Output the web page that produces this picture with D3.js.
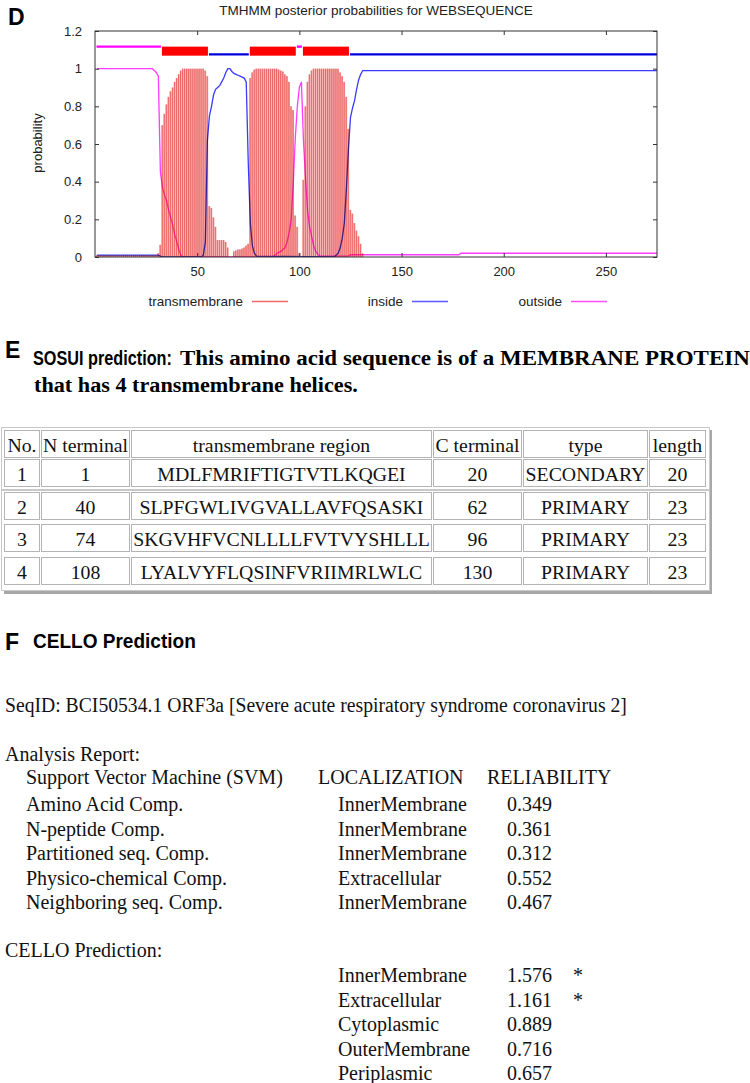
<!DOCTYPE html>
<html>
<head>
<meta charset="utf-8">
<script src="https://cdn.jsdelivr.net/npm/d3@7"></script>
<style>
body { margin: 0; background: #fff; }
svg { display: block; }
</style>
</head>
<body>
<div id="figure"></div>
<script>
// ---------- panel D : TMHMM posterior probabilities ----------
// transmembrane probability, residues 1..131 (0 afterwards)
const tmProb = [
    0.01, 0.01, 0.01, 0.01, 0.01, 0.01, 0.01, 0.01, 0.01, 0.01,
    0.01, 0.01, 0.01, 0.01, 0.01, 0.01, 0.01, 0.01, 0.01, 0.01,
    0.01, 0.01, 0.01, 0.01, 0.01, 0.01, 0.01, 0.01, 0.01, 0.01,
    0.02, 0.065, 0.70, 0.76, 0.81, 0.85, 0.88, 0.90, 0.93, 0.95,
    0.97, 0.99, 1.0, 1.0, 1.0, 1.0, 1.0, 1.0, 1.0, 1.0,
    1.0, 1.0, 1.0, 0.99, 0.96, 0.27, 0.26, 0.21, 0.16, 0.09,
    0.09, 0.09, 0.09, 0.08, 0.05, 0, 0, 0.03, 0.035, 0.04,
    0.04, 0.045, 0.05, 0.06, 0.07, 0.95, 0.98, 0.995, 1.0, 1.0,
    1.0, 1.0, 1.0, 1.0, 1.0, 1.0, 1.0, 1.0, 1.0, 0.995,
    0.99, 0.985, 0.97, 0.96, 0.93, 0.80, 0.78, 0.22, 0.16, 0.02,
    0, 0.41, 0.80, 0.93, 0.97, 0.99, 1.0, 1.0, 1.0, 1.0,
    1.0, 1.0, 1.0, 1.0, 1.0, 1.0, 1.0, 1.0, 1.0, 0.98,
    0.96, 0.93, 0.85, 0.68, 0.25, 0.23, 0.18, 0.14, 0.11, 0.07,
    0.02
];

// inside probability, [residue, probability]
const insideProb = [
    [1, 0.01], [31, 0.01], [32, 0.005], [33, 0], [52, 0], [53, 0.01],
    [54, 0.08], [55, 0.62], [56, 0.75], [57, 0.80], [58, 0.86], [59, 0.89],
    [60, 0.90], [61, 0.91], [62, 0.93], [63, 0.95], [64, 0.98], [65, 1.0],
    [66, 1.0], [67, 0.985], [68, 0.975], [69, 0.97], [70, 0.965], [71, 0.96],
    [72, 0.955], [73, 0.95], [74, 0.93], [75, 0.50], [76, 0.18], [77, 0.06],
    [78, 0.02], [79, 0.005], [117, 0], [118, 0.01], [119, 0.02], [120, 0.05],
    [121, 0.10], [122, 0.18], [123, 0.36], [124, 0.57], [125, 0.74], [126, 0.79],
    [127, 0.83], [128, 0.89], [129, 0.94], [130, 0.97], [131, 0.99], [275, 0.99]
];

// outside probability, [residue, probability]
const outsideProb = [
    [1, 1.0], [28, 1.0], [29, 0.99], [30, 0.98], [31, 0.96], [32, 0.45],
    [33, 0.37], [34, 0.33], [35, 0.30], [36, 0.25], [37, 0.21], [38, 0.17],
    [39, 0.12], [40, 0.08], [41, 0.04], [42, 0.01], [43, 0], [87, 0],
    [88, 0.01], [89, 0.02], [90, 0.025], [91, 0.03], [92, 0.04], [93, 0.05],
    [94, 0.08], [95, 0.13], [96, 0.20], [97, 0.39], [98, 0.63], [99, 0.80],
    [100, 0.90], [101, 0.93], [102, 0.62], [103, 0.42], [104, 0.25], [105, 0.16],
    [106, 0.11], [107, 0.06], [108, 0.03], [109, 0.015], [110, 0.005], [124, 0.005],
    [125, 0.012], [178, 0.012], [179, 0.02], [275, 0.02]
];

// predicted topology segments
const topoType = ["outside", "TMhelix", "inside", "TMhelix", "outside", "TMhelix", "inside"];
const topoStart = [1, 33, 56, 76, 99, 102, 125];
const topoEnd = [32, 55, 75, 98, 101, 124, 275];

const xTicks = [50, 100, 150, 200, 250];
const yTicks = [0, 0.2, 0.4, 0.6, 0.8, 1, 1.2];
const legendNames = ["transmembrane", "inside", "outside"];

// ---------- panel E : SOSUI ----------
const sosuiHeader = ["No.", "N terminal", "transmembrane region", "C terminal", "type", "length"];
const sosuiNo = [1, 2, 3, 4];
const sosuiNTerm = [1, 40, 74, 108];
const sosuiRegion = ["MDLFMRIFTIGTVTLKQGEI", "SLPFGWLIVGVALLAVFQSASKI", "SKGVHFVCNLLLLFVTVYSHLLL", "LYALVYFLQSINFVRIIMRLWLC"];
const sosuiCTerm = [20, 62, 96, 130];
const sosuiType = ["SECONDARY", "PRIMARY", "PRIMARY", "PRIMARY"];
const sosuiLength = [20, 23, 23, 23];

// ---------- panel F : CELLO ----------
const svmMethods = ["Amino Acid Comp.", "N-peptide Comp.", "Partitioned seq. Comp.", "Physico-chemical Comp.", "Neighboring seq. Comp."];
const svmLocalization = ["InnerMembrane", "InnerMembrane", "InnerMembrane", "Extracellular", "InnerMembrane"];
const svmReliability = [0.349, 0.361, 0.312, 0.552, 0.467];
const celloLocalization = ["InnerMembrane", "Extracellular", "Cytoplasmic", "OuterMembrane", "Periplasmic"];
const celloScore = [1.576, 1.161, 0.889, 0.716, 0.657];
const celloStarred = [true, true, false, false, false];

// =====================================================
const width = 750;
const height = 1083;
const sans = "'Liberation Sans', Arial, Helvetica, sans-serif";
const serif = "'Liberation Serif', 'Times New Roman', Times, serif";

const svg = d3.select("#figure")
    .append("svg")
    .attr("width", width)
    .attr("height", height);

// squeeze a text horizontally so it spans `w` pixels (condensed screenshot fonts)
function fitText(sel, x0, y0, w) {
    const natural = sel.node().getComputedTextLength();
    sel.attr("transform", `translate(${x0},${y0}) scale(${w / natural},1)`);
    return sel;
}

// ---------- panel D ----------
const plot = { left: 95, right: 657, top: 31, bottom: 257 };
const x = d3.scaleLinear().domain([0, 275]).range([plot.left, plot.right]);
const y = d3.scaleLinear().domain([0, 1.2]).range([plot.bottom, plot.top]);
const step = x(1) - x(0);

svg.append("text")
    .attr("x", 8).attr("y", 25)
    .attr("font-family", sans).attr("font-weight", "bold").attr("font-size", 23)
    .text("D");

svg.append("text")
    .attr("x", (plot.left + plot.right) / 2).attr("y", 15)
    .attr("text-anchor", "middle")
    .attr("font-family", sans).attr("font-size", 13.5).attr("fill", "#222")
    .text("TMHMM posterior probabilities for WEBSEQUENCE");

svg.append("clipPath").attr("id", "plotClip")
    .append("rect")
    .attr("x", plot.left).attr("y", plot.top)
    .attr("width", plot.right - plot.left).attr("height", plot.bottom - plot.top);

const chart = svg.append("g").attr("clip-path", "url(#plotClip)");

// transmembrane impulses
const tmData = tmProb.map((p, i) => ({ r: i + 1, p: p })).filter(d => d.p > 0);
chart.append("g")
    .selectAll("rect")
    .data(tmData)
    .enter().append("rect")
    .attr("x", d => x(d.r) - step / 2 + 0.25)
    .attr("width", step - 0.5)
    .attr("y", d => y(d.p))
    .attr("height", d => y(0) - y(d.p))
    .attr("fill", "#f38e8e");

chart.append("g")
    .selectAll("line")
    .data(tmData)
    .enter().append("line")
    .attr("x1", d => x(d.r) - step / 2 + 0.6)
    .attr("x2", d => x(d.r) - step / 2 + 0.6)
    .attr("y1", d => y(d.p))
    .attr("y2", y(0))
    .attr("stroke", "#e8504f")
    .attr("stroke-width", 0.7);

// inside / outside curves
const curve = d3.line().x(d => x(d[0])).y(d => y(d[1]));

chart.append("path")
    .datum(insideProb)
    .attr("d", curve)
    .attr("fill", "none")
    .attr("stroke", "#3a3aff")
    .attr("stroke-width", 1.3)
    .style("mix-blend-mode", "multiply");

chart.append("path")
    .datum(outsideProb)
    .attr("d", curve)
    .attr("fill", "none")
    .attr("stroke", "#ff3cff")
    .attr("stroke-width", 1.3)
    .style("mix-blend-mode", "multiply");

// topology strip on top
const topo = topoType.map((t, i) => ({ type: t, start: topoStart[i], end: topoEnd[i] }));
const topoG = chart.append("g");
topoG.selectAll("rect")
    .data(topo.filter(d => d.type === "TMhelix"))
    .enter().append("rect")
    .attr("x", d => x(d.start - 0.5) + 0.5)
    .attr("width", d => x(d.end + 0.5) - x(d.start - 0.5) - 1)
    .attr("y", y(1.117))
    .attr("height", y(1.069) - y(1.117))
    .attr("fill", "#ff0000");
topoG.selectAll("line")
    .data(topo.filter(d => d.type !== "TMhelix"))
    .enter().append("line")
    .attr("x1", d => x(d.start - 0.5) + 0.5)
    .attr("x2", d => x(d.end + 0.5) - 0.5)
    .attr("y1", d => d.type === "outside" ? y(1.117) : y(1.076))
    .attr("y2", d => d.type === "outside" ? y(1.117) : y(1.076))
    .attr("stroke", d => d.type === "outside" ? "#ff00ff" : "#0000dd")
    .attr("stroke-width", 2.4);

// frame and ticks (gnuplot style, ticks inward on all four sides)
const axisColor = "#333";
const bottomAxis = svg.append("g")
    .attr("transform", `translate(0,${plot.bottom})`)
    .call(d3.axisBottom(x).tickValues(xTicks).tickSize(-4).tickPadding(10).tickFormat(d3.format("d")));
const topAxis = svg.append("g")
    .attr("transform", `translate(0,${plot.top})`)
    .call(d3.axisTop(x).tickValues(xTicks).tickSize(-4).tickFormat(""));
const leftAxis = svg.append("g")
    .attr("transform", `translate(${plot.left},0)`)
    .call(d3.axisLeft(y).tickValues(yTicks).tickSize(-4).tickPadding(13).tickFormat(d => d3.format("")(+d.toFixed(1))));
const rightAxis = svg.append("g")
    .attr("transform", `translate(${plot.right},0)`)
    .call(d3.axisRight(y).tickValues(yTicks).tickSize(-4).tickFormat(""));

[bottomAxis, topAxis, leftAxis, rightAxis].forEach(a => {
    a.select(".domain").remove();
    a.selectAll(".tick line").attr("stroke", axisColor);
    a.selectAll("text")
        .attr("font-family", sans)
        .attr("font-size", 13)
        .attr("fill", "#222");
});

svg.append("rect")
    .attr("x", plot.left).attr("y", plot.top)
    .attr("width", plot.right - plot.left).attr("height", plot.bottom - plot.top)
    .attr("fill", "none")
    .attr("stroke", axisColor)
    .attr("stroke-width", 1);

svg.append("text")
    .attr("transform", "translate(42,143) rotate(-90)")
    .attr("text-anchor", "middle")
    .attr("font-family", sans).attr("font-size", 13).attr("fill", "#222")
    .text("probability");

// legend
const legendColors = ["#f26a6a", "#5a5aff", "#ff4cff"];
const legendTextEnd = [243, 403, 562];
const legend = svg.append("g").selectAll("g")
    .data(legendNames)
    .enter().append("g")
    .attr("transform", (d, i) => `translate(${legendTextEnd[i]},306)`);
legend.append("text")
    .attr("text-anchor", "end")
    .attr("font-family", sans).attr("font-size", 13.5).attr("fill", "#222")
    .text(d => d);
legend.append("line")
    .attr("x1", 9).attr("x2", 45)
    .attr("y1", -4.5).attr("y2", -4.5)
    .attr("stroke", (d, i) => legendColors[i])
    .attr("stroke-width", 1.6);

// ---------- panel E ----------
svg.append("text")
    .attr("x", 5).attr("y", 358)
    .attr("font-family", sans).attr("font-weight", "bold").attr("font-size", 23)
    .text("E");

fitText(svg.append("text")
    .attr("font-family", sans).attr("font-weight", "bold").attr("font-size", 20.5)
    .text("SOSUI prediction:"), 33, 365, 139);
fitText(svg.append("text")
    .attr("font-family", serif).attr("font-weight", "bold").attr("font-size", 21)
    .text("This amino acid sequence is of a MEMBRANE PROTEIN"), 180, 365, 570);
fitText(svg.append("text")
    .attr("font-family", serif).attr("font-weight", "bold").attr("font-size", 21)
    .text("that has 4 transmembrane helices."), 34, 392, 324);

// table
const colEdges = [4, 41, 131, 433, 523, 649, 707];
const rowTops = [430, 459, 492, 524, 557];
const rowH = 29;
const tableRows = [sosuiHeader].concat(sosuiNo.map((n, i) =>
    [n, sosuiNTerm[i], sosuiRegion[i], sosuiCTerm[i], sosuiType[i], sosuiLength[i]]));

// outer frames with drop shadow (header+row1 block, rows 2-4 block)
const blocks = [[427, 490], [490, 591]];
const tableG = svg.append("g");
blocks.forEach(b => {
    tableG.append("rect")
        .attr("x", 4).attr("y", b[0] + 3)
        .attr("width", 708).attr("height", b[1] - b[0])
        .attr("fill", "#a8a8a8");
    tableG.append("rect")
        .attr("x", 1.5).attr("y", b[0] + 0.5)
        .attr("width", 708).attr("height", b[1] - b[0] - 1)
        .attr("fill", "#fff")
        .attr("stroke", "#c8c8c8");
});

const rowG = tableG.selectAll("g.row")
    .data(tableRows)
    .enter().append("g")
    .attr("class", "row")
    .attr("transform", (d, i) => `translate(0,${rowTops[i]})`);

const cells = rowG.selectAll("g.cell")
    .data(d => d)
    .enter().append("g")
    .attr("class", "cell");

cells.append("rect")
    .attr("x", (d, i) => colEdges[i] + 0.5)
    .attr("y", 0.5)
    .attr("width", (d, i) => colEdges[i + 1] - colEdges[i] - 2)
    .attr("height", rowH - 2)
    .attr("fill", "none")
    .attr("stroke", "#b4b4b4");

cells.append("text")
    .attr("x", (d, i) => (colEdges[i] + colEdges[i + 1] - 1) / 2)
    .attr("y", 21.5)
    .attr("text-anchor", "middle")
    .attr("font-family", serif)
    .attr("font-size", 19.8)
    .attr("fill", "#111")
    .text(d => d);

// ---------- panel F ----------
svg.append("text")
    .attr("x", 5).attr("y", 650)
    .attr("font-family", sans).attr("font-weight", "bold").attr("font-size", 23)
    .text("F");
fitText(svg.append("text")
    .attr("font-family", sans).attr("font-weight", "bold").attr("font-size", 20.5)
    .text("CELLO Prediction"), 33, 648, 163);

const body = svg.append("g")
    .attr("font-family", serif)
    .attr("font-size", 20)
    .attr("fill", "#111");

fitText(body.append("text")
    .text("SeqID: BCI50534.1 ORF3a [Severe acute respiratory syndrome coronavirus 2]"), 5, 712, 622);
body.append("text").attr("x", 5).attr("y", 761).text("Analysis Report:");
body.append("text").attr("x", 26).attr("y", 784).text("Support Vector Machine (SVM)");
body.append("text").attr("x", 318).attr("y", 784).text("LOCALIZATION");
body.append("text").attr("x", 487).attr("y", 784).text("RELIABILITY");

const rowY = d3.scaleLinear().domain([0, 1]).range([811, 835.5]);

const svmRows = body.append("g").selectAll("g")
    .data(svmMethods)
    .enter().append("g")
    .attr("transform", (d, i) => `translate(0,${rowY(i)})`);
svmRows.append("text").attr("x", 26).text(d => d);
svmRows.append("text").attr("x", 338).text((d, i) => svmLocalization[i]);
svmRows.append("text").attr("x", 507).text((d, i) => d3.format(".3f")(svmReliability[i]));

body.append("text").attr("x", 5).attr("y", 957).text("CELLO Prediction:");

const celloY = d3.scaleLinear().domain([0, 1]).range([982, 1006.5]);
const celloRows = body.append("g").selectAll("g")
    .data(celloLocalization)
    .enter().append("g")
    .attr("transform", (d, i) => `translate(0,${celloY(i)})`);
celloRows.append("text").attr("x", 338).text(d => d);
celloRows.append("text").attr("x", 507).text((d, i) => d3.format(".3f")(celloScore[i]));
celloRows.append("text").attr("x", 573).text((d, i) => celloStarred[i] ? "*" : "");
</script>
</body>
</html>
